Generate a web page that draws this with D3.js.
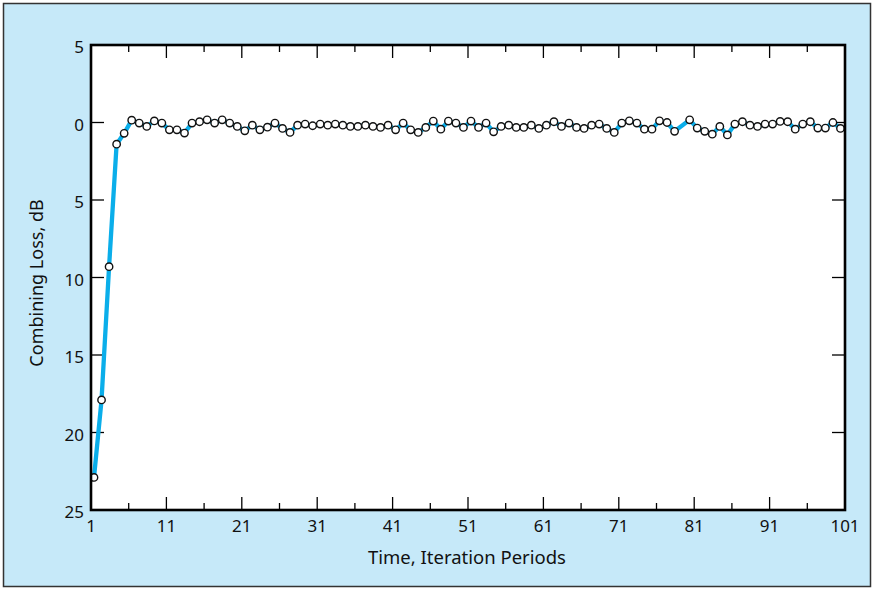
<!DOCTYPE html>
<meta charset="utf-8">
<script src="https://d3js.org/d3.v7.js"></script>
<style type="text/css">
	body { margin: 0; background: #fff; }
	text { font-family: "Noto Sans", sans-serif; fill: #111; }
</style>
<div id="chart"></div>
<script>
// iteration index (point 79 has no marker in the figure, line runs straight 78 -> 80)
var periods = [1,2,3,4,5,6,7,8,9,10,11,12,13,14,15,16,17,18,19,20,
	21,22,23,24,25,26,27,28,29,30,31,32,33,34,35,36,37,38,39,40,
	41,42,43,44,45,46,47,48,49,50,51,52,53,54,55,56,57,58,59,60,
	61,62,63,64,65,66,67,68,69,70,71,72,73,74,75,76,77,78,80,
	81,82,83,84,85,86,87,88,89,90,91,92,93,94,95,96,97,98,99,100];
// combining loss in dB (positive = loss, drawn downward)
var lossDb = [22.9,17.9,9.3,1.4,0.7,-0.15,0.04,0.25,-0.1,0.04,0.47,0.47,0.68,0.04,-0.05,-0.17,0.04,-0.17,0.04,0.25,
	0.54,0.17,0.47,0.3,0.04,0.38,0.64,0.17,0.1,0.21,0.1,0.17,0.1,0.17,0.25,0.25,0.17,0.25,0.32,0.17,
	0.47,0.04,0.47,0.64,0.32,-0.09,0.43,-0.09,0.04,0.32,-0.09,0.32,0.04,0.6,0.25,0.17,0.32,0.32,0.17,0.38,
	0.17,-0.05,0.25,0.04,0.32,0.38,0.17,0.1,0.38,0.64,0.04,-0.11,0.04,0.43,0.43,-0.11,0,0.57,-0.17,
	0.36,0.57,0.75,0.25,0.8,0.1,-0.05,0.17,0.25,0.1,0.1,-0.07,-0.05,0.43,0.1,-0.05,0.36,0.36,0,0.38];
var xMajor = [11,21,31,41,51,61,71,81,91];
var xMinor = [6,16,26,36,46,56,66,76,86,96];
var xLabels = [1,11,21,31,41,51,61,71,81,91,101];
var yTicks = [-5,0,5,10,15,20,25];

var W = 874, H = 590;
var plot = {left: 91, right: 845, top: 45, bottom: 510};
var markShift = 3; // markers sit a little right of the tick grid in the original

var svg = d3.select("#chart").append("svg")
	.attr("width", W).attr("height", H);

// light blue panel with frame
svg.append("rect")
	.attr("x", 3.5).attr("y", 3.5)
	.attr("width", W - 7).attr("height", H - 7)
	.attr("fill", "#c6e9f9")
	.attr("stroke", "#333").attr("stroke-width", 1.5);

svg.append("rect")
	.attr("x", plot.left).attr("y", plot.top)
	.attr("width", plot.right - plot.left).attr("height", plot.bottom - plot.top)
	.attr("fill", "#fff");

var x = d3.scaleLinear().domain([1, 101]).range([plot.left, plot.right]);
var y = d3.scaleLinear().domain([-5, 25]).range([plot.top, plot.bottom]);

// ticks, pointing inward
var g = svg.append("g").attr("stroke", "#000").attr("stroke-width", 1.3);
xMajor.forEach(function(d){
	g.append("line").attr("x1", x(d)).attr("x2", x(d)).attr("y1", plot.bottom).attr("y2", plot.bottom - 13);
	g.append("line").attr("x1", x(d)).attr("x2", x(d)).attr("y1", plot.top).attr("y2", plot.top + 13);
});
xMinor.forEach(function(d){
	g.append("line").attr("x1", x(d)).attr("x2", x(d)).attr("y1", plot.bottom).attr("y2", plot.bottom - 7);
	g.append("line").attr("x1", x(d)).attr("x2", x(d)).attr("y1", plot.top).attr("y2", plot.top + 7);
});
yTicks.slice(1, -1).forEach(function(d){
	g.append("line").attr("x1", plot.left).attr("x2", plot.left + 13).attr("y1", y(d)).attr("y2", y(d));
	g.append("line").attr("x1", plot.right).attr("x2", plot.right - 13).attr("y1", y(d)).attr("y2", y(d));
});

// data
svg.append("clipPath").attr("id", "clip")
	.append("rect").attr("x", plot.left).attr("y", plot.top)
	.attr("width", plot.right - plot.left).attr("height", plot.bottom - plot.top);

var pts = periods.map(function(p, i){ return [p, lossDb[i]]; });
var px = function(d){ return x(d[0]) + markShift; };

svg.append("path")
	.datum(pts)
	.attr("clip-path", "url(#clip)")
	.attr("fill", "none")
	.attr("stroke", "#0aaeea")
	.attr("stroke-width", 4.3)
	.attr("stroke-linejoin", "round")
	.attr("d", d3.line().x(px).y(function(d){ return y(d[1]); }));

svg.append("g").attr("clip-path", "url(#clip)")
	.selectAll("circle")
	.data(pts)
	.enter().append("circle")
	.attr("cx", px)
	.attr("cy", function(d){ return y(d[1]); })
	.attr("r", 3.7)
	.attr("fill", "#fff")
	.attr("stroke", "#111")
	.attr("stroke-width", 1.4);

// plot frame
svg.append("rect")
	.attr("x", plot.left).attr("y", plot.top)
	.attr("width", plot.right - plot.left).attr("height", plot.bottom - plot.top)
	.attr("fill", "none")
	.attr("stroke", "#000").attr("stroke-width", 2.6);

// labels
svg.append("g").selectAll("text")
	.data(xLabels).enter().append("text")
	.attr("x", function(d){ return x(d); })
	.attr("y", plot.bottom + 22)
	.attr("text-anchor", "middle")
	.attr("font-size", 17)
	.text(function(d){ return d; });

svg.append("g").selectAll("text")
	.data(yTicks).enter().append("text")
	.attr("x", plot.left - 7)
	.attr("y", function(d){ return y(d) + 8; })
	.attr("text-anchor", "end")
	.attr("font-size", 17)
	.text(function(d){ return Math.abs(d); });

svg.append("text")
	.attr("x", 467)
	.attr("y", 564)
	.attr("text-anchor", "middle")
	.attr("font-size", 18.5)
	.text("Time, Iteration Periods");

svg.append("text")
	.attr("transform", "translate(43,283) rotate(-90)")
	.attr("text-anchor", "middle")
	.attr("font-size", 18)
	.text("Combining Loss, dB");
</script>
